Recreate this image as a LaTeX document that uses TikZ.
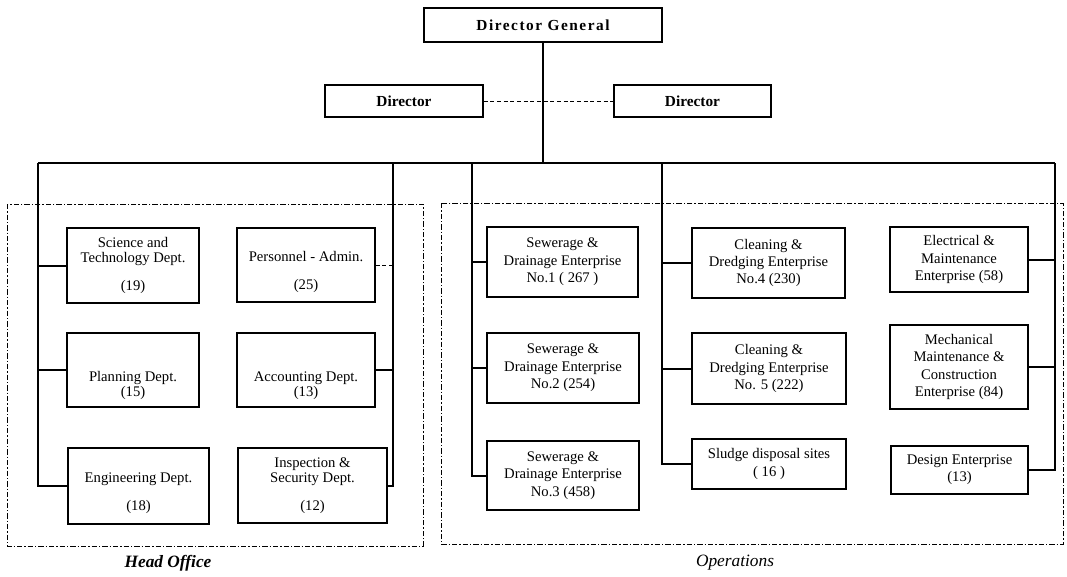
\documentclass[tikz,border=0pt]{standalone}
\usepackage{fontspec}
\setmainfont{Liberation Serif}

\begin{document}
\begin{tikzpicture}[x=0.75pt, y=-0.75pt,
		size/.style 2 args={minimum width=#1*0.75pt, minimum height=#2*0.75pt},
		box/.style={draw, line width=1pt, inner sep=1pt, align=center,
			font=\fontsize{11}{13}\selectfont},
		dept/.style={box, font=\fontsize{11}{11}\selectfont},
		head/.style={draw, line width=1pt, inner sep=1pt,
			font=\fontsize{11.5}{13}\selectfont\bfseries},
		bus/.style={line width=1.5pt},
		group/.style={line width=0.6pt, dash pattern=on 4pt off 1.5pt on 1pt off 1.5pt}]
	\useasboundingbox (0,0) rectangle (1067,576);

	% top
	\node[head, size={238}{34}] (dg) at (543,25) {\addfontfeatures{LetterSpace=10}Director General};
	\node[head, size={158}{32}] (dl) at (404,101) {Director};
	\node[head, size={157}{32}] (dr) at (692.5,101) {Director};

	% head office
	\node[dept, size={132}{75}] (sci) at (133,265.5) {Science and\\Technology Dept.\\[10pt](19)};
	\node[dept, size={138}{74}] (pers) at (306,265) {\strut\\Personnel - Admin.\\[10pt](25)};
	\node[dept, size={132}{74}] (plan) at (133,370) {\strut\\[12pt]Planning Dept.\\(15)};
	\node[dept, size={138}{74}] (acc) at (306,370) {\strut\\[12pt]Accounting Dept.\\(13)};
	\node[dept, size={141}{76}] (eng) at (138.5,486) {\strut\\Engineering Dept.\\[10pt](18)};
	\node[dept, size={149}{75}] (insp) at (312.5,485.5) {Inspection \&\\Security Dept.\\[10pt](12)};

	% operations
	\node[box, size={151}{70}] (sew1) at (562.5,262) {Sewerage \&\\Drainage Enterprise\\No.1 ( 267 )};
	\node[box, size={152}{70}] (sew2) at (563,368) {Sewerage \&\\Drainage Enterprise\\No.2 (254)};
	\node[box, size={152}{69}] (sew3) at (563,475.5) {Sewerage \&\\Drainage Enterprise\\No.3 (458)};
	\node[box, size={153}{70}] (cln4) at (768.5,263) {Cleaning \&\\Dredging Enterprise\\No.4 (230)};
	\node[box, size={154}{71}] (cln5) at (769,368.5) {Cleaning \&\\Dredging Enterprise\\No. 5 (222)};
	\node[box, size={154}{50}] (sludge) at (769,464) {Sludge disposal sites\\( 16 )};
	\node[box, size={138}{65}] (elec) at (959,259.5) {Electrical \&\\Maintenance\\Enterprise (58)};
	\node[box, size={138}{84}] (mech) at (959,367) {Mechanical\\Maintenance \&\\Construction\\Enterprise (84)};
	\node[box, size={137}{48}] (design) at (959.5,470) {Design Enterprise\\(13)};

	% groups
	\draw[group] (7,204) rectangle (423,546);
	\draw[group] (441,203) rectangle (1063,544);
	\node[font=\fontsize{13}{15}\selectfont\bfseries\itshape] (hol) at (168,563) {Head Office};
	\node[font=\fontsize{13}{15}\selectfont\itshape] (opl) at (735,563) {Operations};

	% bus
	\coordinate (t1) at (38,163);
	\coordinate (t2) at (393,163);
	\coordinate (t3) at (472,163);
	\coordinate (t4) at (662,163);
	\coordinate (t5) at (1055,163);
	\draw[bus] (dg) -- (dg |- t1);
	\draw[bus] (t1) -- (t5);
	\draw[line width=0.5pt, densely dashed] (dl) -- (dr);

	\draw[bus] (t1) |- (sci);
	\draw[bus] (t1) |- (plan);
	\draw[bus] (t1) |- (eng);
	\draw[bus] (t2) |- (acc);
	\draw[bus] (t2) |- (insp);
	\draw[line width=0.6pt, densely dashed] (pers) -- (pers -| t2);
	\draw[bus] (t3) |- (sew1);
	\draw[bus] (t3) |- (sew2);
	\draw[bus] (t3) |- (sew3);
	\draw[bus] (t4) |- (cln4);
	\draw[bus] (t4) |- (cln5);
	\draw[bus] (t4) |- (sludge);
	\draw[bus] (t5) |- (elec);
	\draw[bus] (t5) |- (mech);
	\draw[bus] (t5) |- (design);
\end{tikzpicture}
\end{document}
